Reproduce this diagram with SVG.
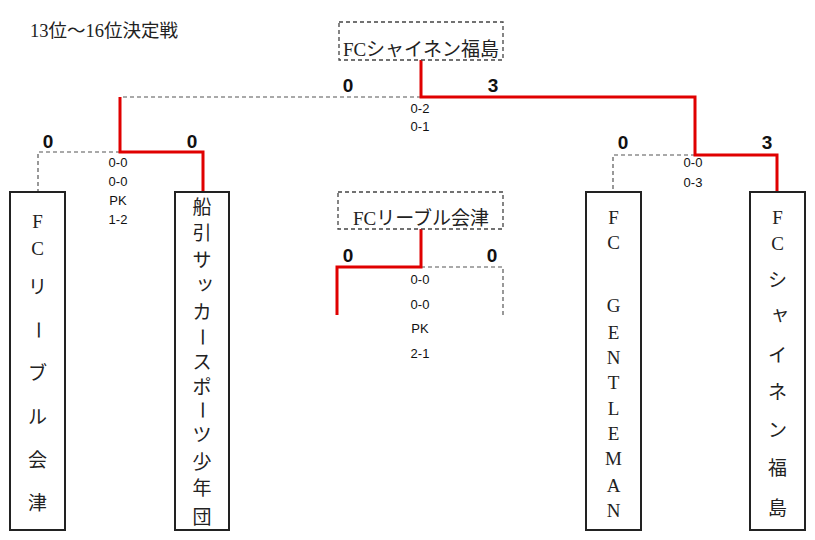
<svg xmlns="http://www.w3.org/2000/svg" width="815" height="540" viewBox="0 0 815 540">
<style>
.t{font-family:"Liberation Serif","Noto Sans CJK JP",serif;fill:#222}
.v{font-family:"Liberation Serif","Noto Sans CJK JP",serif;font-size:19px;fill:#222;text-anchor:middle}
.sc{font-family:"Liberation Sans","DejaVu Sans",sans-serif;font-weight:bold;font-size:19px;fill:#111;text-anchor:middle}
.sm{font-family:"Liberation Sans","DejaVu Sans",sans-serif;font-size:13px;fill:#111;text-anchor:middle}
.box{fill:#fff;stroke:#222;stroke-width:2}
.dbox{fill:#fff;stroke:#444;stroke-width:1.3;stroke-dasharray:4 3}
.win{fill:none;stroke:#e00000;stroke-width:3}
.lose{fill:none;stroke:#555;stroke-width:1.2;stroke-dasharray:4 3}
</style>
<rect width="815" height="540" fill="#fff"/>
<text class="t" x="30" y="37" font-size="18.5">13位～16位決定戦</text>

<g id="connectors">
<polyline class="lose" points="421,97 120,97"/>
<polyline class="lose" points="120,152 38,152 38,192"/>
<polyline class="lose" points="695,155 613,155 613,192"/>
<polyline class="lose" points="421,267 503,267 503,315"/>
<polyline class="win" points="421,60 421,97 695,97 695,155 777,155 777,192"/>
<polyline class="win" points="120,97 120,152 203,152 203,192"/>
<polyline class="win" points="421,229 421,267 337,267 337,315"/>
</g>

<g id="winner-top">
<rect class="dbox" x="339" y="22" width="164" height="38"/>
<text class="t" x="421" y="56" font-size="19" text-anchor="middle">FCシャイネン福島</text>
</g>
<g id="winner-mid">
<rect class="dbox" x="338" y="192" width="165" height="37"/>
<text class="t" x="421" y="225" font-size="19" text-anchor="middle">FCリーブル会津</text>
</g>

<g id="scores">
<text class="sc" x="348" y="92">0</text>
<text class="sc" x="493" y="92">3</text>
<text class="sm" x="420" y="113">0-2</text>
<text class="sm" x="420" y="131">0-1</text>
<text class="sc" x="48" y="148">0</text>
<text class="sc" x="192" y="148">0</text>
<text class="sm" x="118" y="167">0-0</text>
<text class="sm" x="118" y="186">0-0</text>
<text class="sm" x="118" y="205">PK</text>
<text class="sm" x="118" y="224">1-2</text>
<text class="sc" x="623" y="149">0</text>
<text class="sc" x="767" y="149">3</text>
<text class="sm" x="693" y="167">0-0</text>
<text class="sm" x="693" y="187">0-3</text>
<text class="sc" x="348" y="262">0</text>
<text class="sc" x="492" y="262">0</text>
<text class="sm" x="420" y="284">0-0</text>
<text class="sm" x="420" y="309">0-0</text>
<text class="sm" x="420" y="333">PK</text>
<text class="sm" x="420" y="358">2-1</text>
</g>

<g id="team-fc-reeble">
<rect class="box" x="10" y="192" width="55" height="338"/>
<text class="v" x="37.5" y="228">F</text>
<text class="v" x="37.5" y="255">C</text>
<text class="v" x="37.5" y="294">リ</text>
<text class="v" x="37.5" y="337" transform="rotate(90 37.5 330)">ー</text>
<text class="v" x="37.5" y="380">ブ</text>
<text class="v" x="37.5" y="424">ル</text>
<text class="v" x="37.5" y="467">会</text>
<text class="v" x="37.5" y="510">津</text>
</g>

<g id="team-funehiki">
<rect class="box" x="175" y="192" width="54" height="338"/>
<text class="v" x="202" y="214">船</text>
<text class="v" x="202" y="240">引</text>
<text class="v" x="202" y="267">サ</text>
<text class="v" x="205" y="290">ッ</text>
<text class="v" x="202" y="319">カ</text>
<text class="v" x="202" y="344" transform="rotate(90 202 337)">ー</text>
<text class="v" x="202" y="369">ス</text>
<text class="v" x="202" y="394">ポ</text>
<text class="v" x="202" y="417" transform="rotate(90 202 410)">ー</text>
<text class="v" x="202" y="442">ツ</text>
<text class="v" x="202" y="469">少</text>
<text class="v" x="202" y="495">年</text>
<text class="v" x="202" y="524">団</text>
</g>

<g id="team-gentleman">
<rect class="box" x="586" y="192" width="55" height="338"/>
<text class="v" x="613.5" y="224">F</text>
<text class="v" x="613.5" y="249">C</text>
<text class="v" x="613.5" y="312">G</text>
<text class="v" x="613.5" y="339">E</text>
<text class="v" x="613.5" y="364">N</text>
<text class="v" x="613.5" y="389">T</text>
<text class="v" x="613.5" y="415">L</text>
<text class="v" x="613.5" y="440">E</text>
<text class="v" x="613.5" y="465">M</text>
<text class="v" x="613.5" y="492">A</text>
<text class="v" x="613.5" y="517">N</text>
</g>

<g id="team-shine">
<rect class="box" x="750" y="192" width="55" height="338"/>
<text class="v" x="777.5" y="224">F</text>
<text class="v" x="777.5" y="250">C</text>
<text class="v" x="777.5" y="287">シ</text>
<text class="v" x="780" y="321">ャ</text>
<text class="v" x="777.5" y="362">イ</text>
<text class="v" x="777.5" y="399">ネ</text>
<text class="v" x="777.5" y="437">ン</text>
<text class="v" x="777.5" y="475">福</text>
<text class="v" x="777.5" y="515">島</text>
</g>
</svg>
